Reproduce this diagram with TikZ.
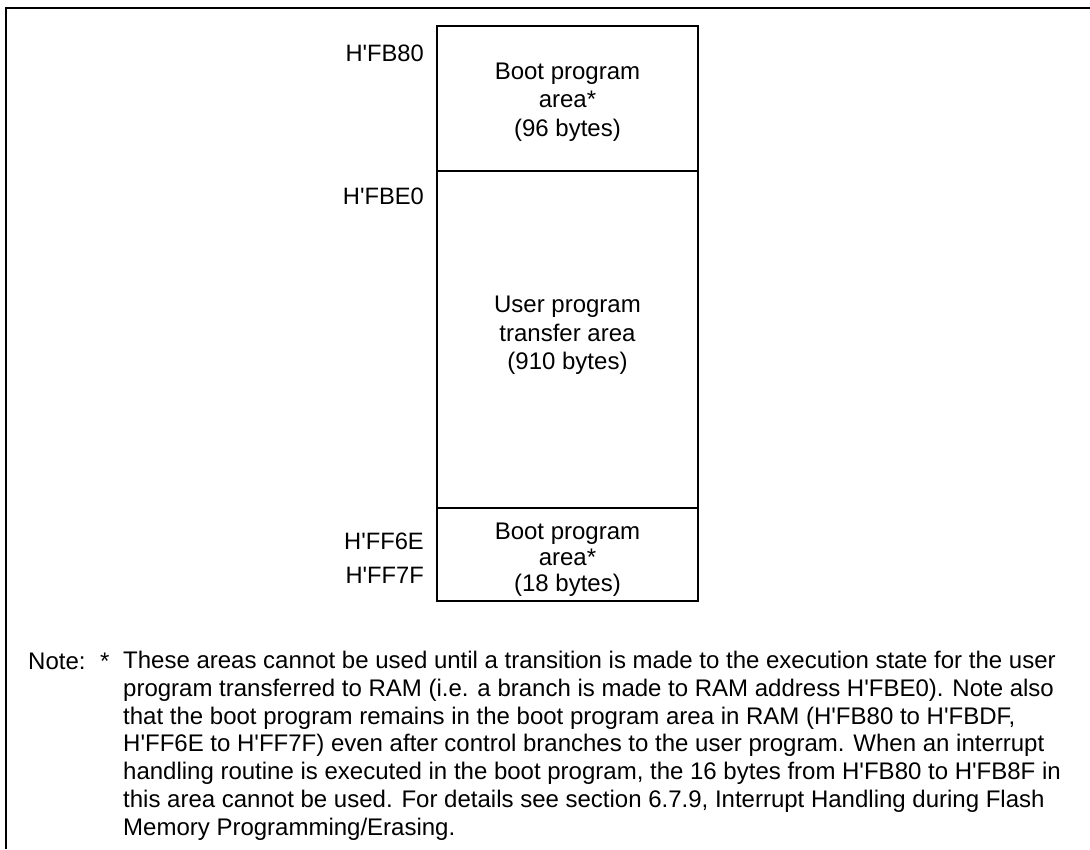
\documentclass[tikz,border=0pt]{standalone}
\usepackage{fontspec}
\setmainfont{Liberation Sans}[Ligatures=TeXOff]
\begin{document}
\begin{tikzpicture}[x=1pt,y=-1pt,
  frameline/.style={line width=1.6pt},
  region/.style={draw, line width=1.2pt, inner sep=0pt, minimum width=261pt},
  addr/.style={anchor=base east, inner sep=0pt, font=\fontsize{23.7}{28.5}\selectfont},
  boxtext/.style={align=center, inner sep=0pt, font=\fontsize{24}{28.5}\selectfont},
  notetext/.style={anchor=base west, inner sep=0pt, align=left, font=\fontsize{24}{27.7}\selectfont}]
\useasboundingbox (0,0) rectangle (1090,849);
% frame
\coordinate (fbl) at (6,849);
\coordinate (ftl) at (6,8);
\coordinate (ftr) at (1090,8);
\draw[frameline] (fbl) -- (ftl) -- (ftr);
% memory map
\node[region, minimum height=145pt] (r1) at (567.5,98.5) {};
\node[region, minimum height=337pt] (r2) at (567.5,339.5) {};
\node[region, minimum height=93pt] (r3) at (567.5,554.5) {};
\node[boxtext] (t1) at (567.5,102) {Boot program\\area*\\(96 bytes)};
\node[boxtext] (t2) at (567.5,335.5) {User program\\transfer area\\(910 bytes)};
\node[boxtext, font=\fontsize{24}{26}\selectfont] (t3) at (567.5,560) {Boot program\\area*\\(18 bytes)};
% addresses
\node[addr] (a1) at (424,61) {H'FB80};
\node[addr] (a2) at (424,204) {H'FBE0};
\node[addr] (a3) at (424,549) {H'FF6E};
\node[addr] (a4) at (424,583) {H'FF7F};
% note
\node[notetext] (nl) at (28,669) {Note:};
\node[notetext] (ns) at (100,669) {*};
\node[notetext] (nt) at (123,835) {These areas cannot be used until a transition is made to the execution state for the user\\
program transferred to RAM (i.e. a branch is made to RAM address H'FBE0). Note also\\
that the boot program remains in the boot program area in RAM (H'FB80 to H'FBDF,\\
H'FF6E to H'FF7F) even after control branches to the user program. When an interrupt\\
handling routine is executed in the boot program, the 16 bytes from H'FB80 to H'FB8F in\\
this area cannot be used. For details see section 6.7.9, Interrupt Handling during Flash\\
Memory Programming/Erasing.};
\end{tikzpicture}
\end{document}
